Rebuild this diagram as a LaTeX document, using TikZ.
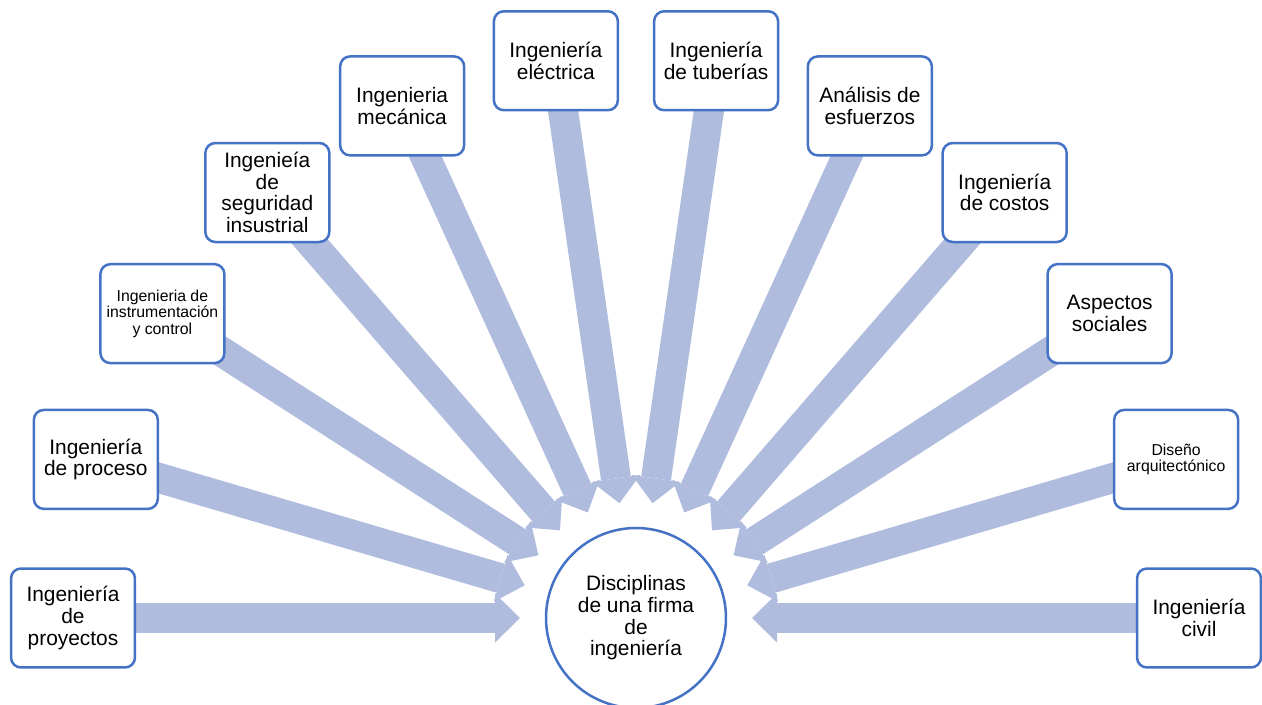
\documentclass[tikz,border=0pt]{standalone}
\usepackage{fontspec}
\setmainfont{Liberation Sans}
\usetikzlibrary{arrows.meta,backgrounds}
\definecolor{bordblue}{HTML}{4472C4}
\definecolor{arrowfill}{HTML}{AFBCDE}
\begin{document}
\begin{tikzpicture}[x=0.02cm,y=0.02cm,
  disc/.style={draw=bordblue, line width=0.05cm, rounded corners=0.2cm, fill=white,
    minimum width=2.48cm, minimum height=1.98cm, inner sep=0pt, align=center,
    font=\fontsize{11.9}{12.3}\selectfont},
  smalldisc/.style={disc, font=\fontsize{9}{9.5}\selectfont},
  hub/.style={circle, draw=bordblue, line width=0.05cm, fill=white, minimum size=3.6cm,
    inner sep=0pt, align=center, font=\fontsize{11.9}{12.3}\selectfont},
  feed/.style={draw=arrowfill, line width=0.6cm,
    -{Triangle[width=0.98cm,length=0.5cm,line width=0pt,fill=arrowfill]}}
]
\useasboundingbox (0,0) rectangle (1262,704);
\coordinate (C) at (636,86);
\foreach \i in {0,...,11} {
  \path (C) ++({180-\i*180/11}:116) coordinate (t\i);
}
\path (C) ++({180-0*180/11}:563) node[disc] (b0) {Ingeniería\\de\\proyectos};
\path (C) ++({180-1*180/11}:563) node[disc] (b1) {Ingeniería\\de proceso};
\path (C) ++({180-2*180/11}:563) node[smalldisc] (b2) {Ingenieria de\\instrumentación\\y control};
\path (C) ++({180-3*180/11}:563) node[disc] (b3) {Ingenieía\\de\\seguridad\\insustrial};
\path (C) ++({180-4*180/11}:563) node[disc] (b4) {Ingenieria\\mecánica};
\path (C) ++({180-5*180/11}:563) node[disc] (b5) {Ingeniería\\eléctrica};
\path (C) ++({180-6*180/11}:563) node[disc] (b6) {Ingeniería\\de tuberías};
\path (C) ++({180-7*180/11}:563) node[disc] (b7) {Análisis de\\esfuerzos};
\path (C) ++({180-8*180/11}:563) node[disc] (b8) {Ingeniería\\de costos};
\path (C) ++({180-9*180/11}:563) node[disc] (b9) {Aspectos\\sociales};
\path (C) ++({180-10*180/11}:563) node[smalldisc] (b10) {Diseño\\arquitectónico};
\path (C) ++({180-11*180/11}:563) node[disc] (b11) {Ingeniería\\civil};
\node[hub] (hub) at (C) {Disciplinas\\de una firma\\de\\ingeniería};
\begin{pgfonlayer}{background}
\foreach \i in {0,...,11} {
  \draw[feed] (b\i.center) -- (t\i);
}
\end{pgfonlayer}
\end{tikzpicture}
\end{document}
